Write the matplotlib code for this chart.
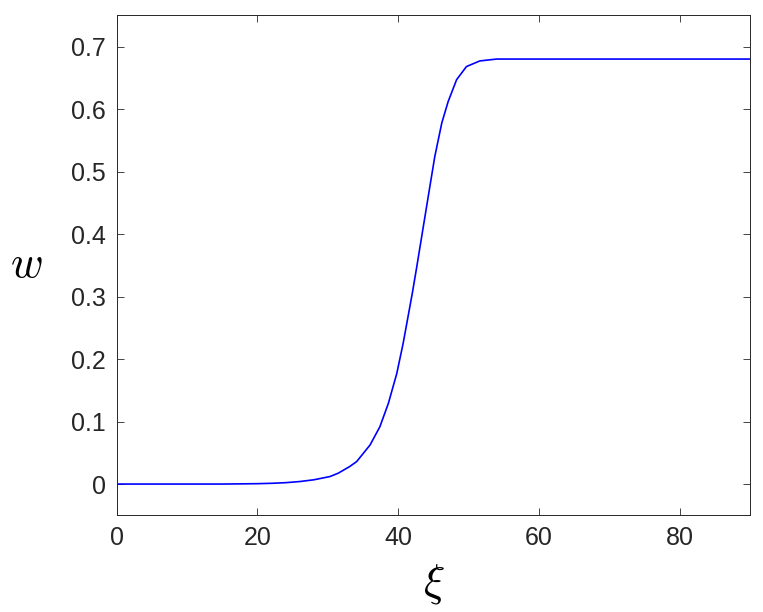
import matplotlib
matplotlib.use("Agg")
import matplotlib.pyplot as plt

# curve
xi = [0, 5, 10, 15, 20, 22, 24, 26, 28, 30.3, 31.5, 33.1, 34.1, 34.6, 36.0,
      37.4, 38.6, 39.8, 40.7, 41.4, 42.0, 42.6, 43.6, 44.5, 45.2, 46.2, 47.1,
      48.3, 49.7, 51.6, 54.0, 58, 65, 75, 90]
w = [0, 0, 0, 0, 0.0006, 0.0012, 0.0022, 0.004, 0.0068, 0.012, 0.0175,
     0.028, 0.036, 0.043, 0.0625, 0.0918, 0.129, 0.177, 0.225, 0.268, 0.305,
     0.345, 0.414, 0.476, 0.524, 0.578, 0.612, 0.647, 0.668, 0.677, 0.680,
     0.680, 0.680, 0.680, 0.680]

x_ticks = [0, 20, 40, 60, 80]
y_ticks = [0, 0.1, 0.2, 0.3, 0.4, 0.5, 0.6, 0.7]

plt.rcParams["font.family"] = ["Liberation Sans", "DejaVu Sans"]
plt.rcParams["mathtext.fontset"] = "cm"

fig = plt.figure(figsize=(7.63, 6.12), dpi=100)
ax = fig.add_axes([0.153, 0.158, 0.83, 0.817])

ax.plot(xi, w, color=(0, 0, 1), lw=1.2)

ax.set_xlim(0, 90)
ax.set_ylim(-0.05, 0.75)
ax.set_xticks(x_ticks)
ax.set_yticks(y_ticks)
ax.set_xticklabels([str(t) for t in x_ticks])
ax.set_yticklabels(["0" if t == 0 else f"{t:.1f}" for t in y_ticks])

ax.tick_params(direction="in", top=True, right=True, length=5, width=0.6,
               colors=(0.15, 0.15, 0.15), labelsize=18, pad=8)
for s in ax.spines.values():
    s.set_color((0.15, 0.15, 0.15))
    s.set_linewidth(0.7)

ax.set_xlabel(r"$\xi$", fontsize=32, labelpad=8)
ax.set_ylabel(r"$w$", fontsize=32, rotation=0, labelpad=32, va="center")

fig.savefig("out.png", dpi=100)
